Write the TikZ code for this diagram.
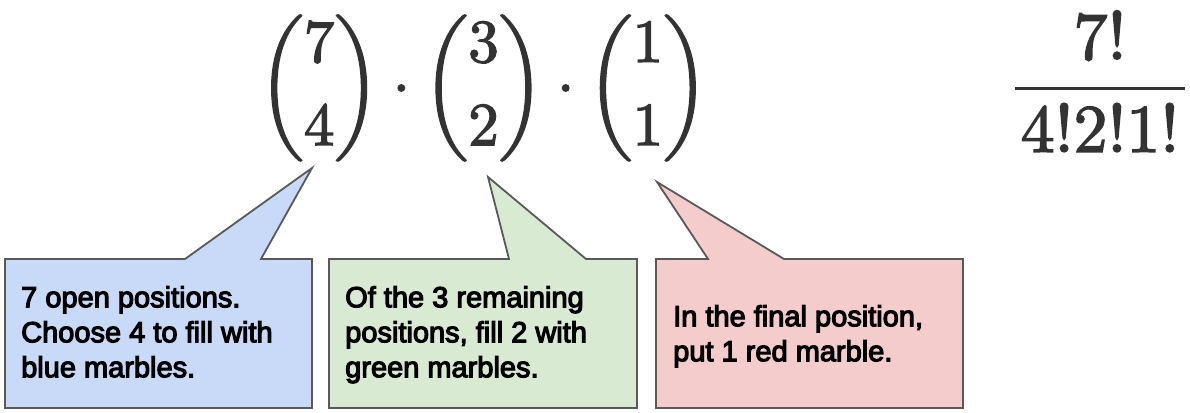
\documentclass[tikz,border=0pt]{standalone}
\usepackage{amsmath}
\usepackage[no-math]{fontspec}
\newfontfamily\boxfont{Liberation Sans}
\definecolor{bluefill}{HTML}{C9DAF8}
\definecolor{greenfill}{HTML}{D9EAD3}
\definecolor{redfill}{HTML}{F4CCCC}
\definecolor{edgegray}{HTML}{595959}
\definecolor{mathgray}{HTML}{333333}
\newcommand{\heavymath}[1]{\special{pdf:literal direct 2 Tr 0.22 w}#1\special{pdf:literal direct 0 Tr}}
\newcommand{\heavytext}{\special{pdf:literal direct 2 Tr 1.15 w}}
\newcommand{\lighttext}{\special{pdf:literal direct 0 Tr}}
\tikzset{
  callout/.style={draw=edgegray, line width=1.8pt, line join=miter},
  boxtext/.style={anchor=north west, inner sep=0pt, align=left, text=black,
    font=\boxfont\fontsize{29}{35}\selectfont},
  mathtext/.style={text=mathgray, inner sep=0pt, transform shape}
}
\begin{document}
\begin{tikzpicture}[x=1pt,y=1pt]
\useasboundingbox (0,0) rectangle (1190,412);
% formula
\node[mathtext, scale=6.1] (binoms) at (483.5,324)
  {\heavymath{$\displaystyle\binom{7}{4}\cdot\binom{3}{2}\cdot\binom{1}{1}$}};
\node[mathtext, scale=6.8] (frac) at (1100,330)
  {\heavymath{$\displaystyle\frac{7!}{\mkern1.5mu 4!2!1!\mkern1.5mu}$}};
% callouts
\fill[bluefill] (5,153) -- (185,153) -- (312,244) -- (261,153) -- (312,153) -- (312,4) -- (5,4) -- cycle;
\draw[callout] (5,153) -- (185,153) -- (312,244) -- (261,153) -- (312,153) -- (312,4) -- (5,4) -- cycle;
\fill[greenfill] (329,153) -- (509,153) -- (488,235) -- (586,153) -- (637,153) -- (637,4) -- (329,4) -- cycle;
\draw[callout] (329,153) -- (509,153) -- (488,235) -- (586,153) -- (637,153) -- (637,4) -- (329,4) -- cycle;
\fill[redfill] (656,153) -- (708,153) -- (657,230) -- (784,153) -- (963,153) -- (963,4) -- (656,4) -- cycle;
\draw[callout] (656,153) -- (708,153) -- (657,230) -- (784,153) -- (963,153) -- (963,4) -- (656,4) -- cycle;
% texts
\node[boxtext] (bluetext) at (21,126) {\heavytext 7 open positions.\\Choose 4 to fill with\\blue marbles.\lighttext};
\node[boxtext] (greentext) at (345,126) {\heavytext Of the 3 remaining\\positions, fill 2 with\\green marbles.\lighttext};
\node[boxtext] (redtext) at (673,107) {\heavytext In the final position,\\put 1 red marble.\lighttext};
\end{tikzpicture}
\end{document}
